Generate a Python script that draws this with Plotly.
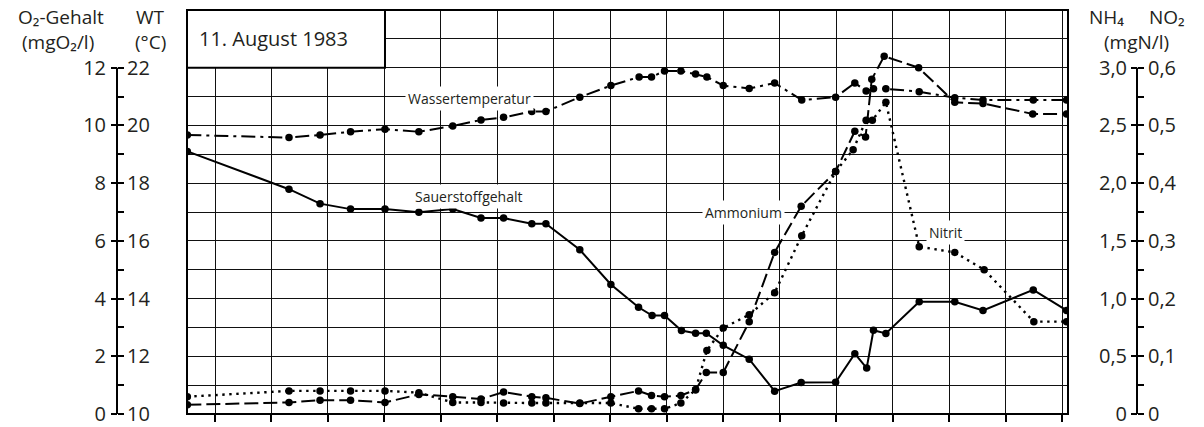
import plotly.graph_objects as go

W, H = 1204, 427

# ---------------- data (x = time in grid units) ----------------
zeit_o2 = [-0.49, 1.31, 1.86, 2.40, 3.01, 3.61, 4.21, 4.71, 5.11, 5.61, 5.86, 6.46, 7.01, 7.50, 7.74, 7.96,
           8.26, 8.51, 8.70, 9.00, 9.46, 9.91, 10.38, 10.99, 11.33, 11.54, 11.66, 11.88, 12.47, 13.10, 13.60,
           14.49, 15.08]
sauerstoff = [9.10, 7.79, 7.29, 7.10, 7.10, 6.99, 7.10, 6.79, 6.79, 6.59, 6.59, 5.69, 4.49, 3.70, 3.41, 3.41,
              2.89, 2.80, 2.80, 2.38, 1.90, 0.79, 1.09, 1.10, 2.09, 1.59, 2.90, 2.79, 3.89, 3.89, 3.59,
              4.30, 3.59]

zeit_wt = [-0.49, 1.31, 1.86, 2.40, 3.01, 3.61, 4.21, 4.71, 5.11, 5.61, 5.86, 6.46, 7.01, 7.51, 7.73, 7.96,
           8.25, 8.51, 8.71, 9.00, 9.46, 9.91, 10.39, 10.99, 11.33, 11.53, 11.66, 11.88, 12.47, 13.10, 13.60,
           14.49, 15.08]
wassertemp = [19.67, 19.58, 19.67, 19.78, 19.87, 19.78, 19.98, 20.19, 20.28, 20.48, 20.48, 20.98, 21.38,
              21.68, 21.68, 21.89, 21.89, 21.78, 21.68, 21.38, 21.28, 21.47, 20.88, 20.98, 21.47, 21.19,
              21.27, 21.27, 21.17, 20.96, 20.88, 20.88, 20.88]

zeit_nh4 = [-0.49, 1.31, 1.86, 2.40, 3.01, 3.61, 4.21, 4.71, 5.11, 5.61, 5.86, 6.46, 7.01, 7.50, 7.73, 7.96,
            8.25, 8.51, 8.70, 9.00, 9.46, 9.91, 10.38, 10.99, 11.33, 11.52, 11.63, 11.85, 12.46, 13.10, 13.60,
            14.48, 15.08]
ammonium = [0.08, 0.10, 0.12, 0.12, 0.10, 0.17, 0.15, 0.13, 0.19, 0.15, 0.14, 0.09, 0.15, 0.20, 0.16, 0.15,
            0.16, 0.21, 0.36, 0.36, 0.80, 1.40, 1.80, 2.10, 2.45, 2.40, 2.90, 3.10, 3.00, 2.70, 2.69,
            2.60, 2.60]

zeit_no2 = [-0.49, 1.31, 1.86, 2.40, 3.01, 3.61, 4.21, 4.71, 5.11, 5.61, 5.86, 6.46, 7.01, 7.50, 7.73, 7.96,
            8.25, 8.51, 8.71, 9.00, 9.46, 9.91, 10.39, 10.99, 11.30, 11.53, 11.64, 11.88, 12.47, 13.10, 13.62,
            14.50, 15.08]
nitrit = [0.030, 0.040, 0.040, 0.040, 0.040, 0.037, 0.020, 0.020, 0.019, 0.019, 0.019, 0.019, 0.019, 0.009,
          0.009, 0.009, 0.019, 0.042, 0.110, 0.149, 0.172, 0.210, 0.309, 0.420, 0.458, 0.509, 0.509, 0.540,
          0.290, 0.280, 0.250, 0.160, 0.160]

# tick values / labels
o2_ticks = [0, 2, 4, 6, 8, 10, 12]
o2_labels = ["0", "2", "4", "6", "8", "10", "12"]
wt_ticks = [10, 12, 14, 16, 18, 20, 22]
wt_labels = ["10", "12", "14", "16", "18", "20", "22"]
nh4_ticks = [0, 0.5, 1.0, 1.5, 2.0, 2.5, 3.0]
nh4_labels = ["0", "0,5", "1,0", "1,5", "2,0", "2,5", "3,0"]
no2_ticks = [0, 0.1, 0.2, 0.3, 0.4, 0.5, 0.6]
no2_labels = ["0", "0,1", "0,2", "0,3", "0,4", "0,5", "0,6"]
x_grid = list(range(16))

title_text = "11. August 1983"
# header texts: (text, x px, y px)
headers = [("O₂-Gehalt", 61, 17.5), ("(mgO₂/l)", 58, 42.5),
           ("WT", 150, 17.5), ("(°C)", 150, 42.5),
           ("NH₄", 1106, 17), ("NO₂", 1167, 17), ("(mgN/l)", 1136, 42)]

# ---------------- layout geometry ----------------
FONT = "Open Sans"
TXT = "#231f20"
GRID = "#111111"
PL, PR = 187, 1068          # plot area px
MT, MB = 10, 9
x_range = [-0.496, 15.105]
y_range = [0, 14]
ax_left_px, ax_right_px = 117, 1137
pos_left = ax_left_px / W
pos_right = ax_right_px / W
plot_h = H - MT - MB


def py2paper(py):
    return (H - MB - py) / plot_h


def mids(v):
    return [(a + b) / 2 for a, b in zip(v[:-1], v[1:])]


marker = dict(size=7.5, color="black")
fig = go.Figure()
fig.add_trace(go.Scatter(x=zeit_wt, y=wassertemp, yaxis="y2", mode="lines+markers",
                         line=dict(color="black", width=2, dash="14px,5px,3px,5px"), marker=marker,
                         name="Wassertemperatur", hoverinfo="skip"))
fig.add_trace(go.Scatter(x=zeit_o2, y=sauerstoff, yaxis="y", mode="lines+markers",
                         line=dict(color="black", width=2), marker=marker,
                         name="Sauerstoffgehalt", hoverinfo="skip"))
fig.add_trace(go.Scatter(x=zeit_nh4, y=ammonium, yaxis="y3", mode="lines+markers",
                         line=dict(color="black", width=2, dash="14px,5px"), marker=marker,
                         name="Ammonium", hoverinfo="skip"))
fig.add_trace(go.Scatter(x=zeit_no2, y=nitrit, yaxis="y4", mode="lines+markers",
                         line=dict(color="black", width=2.4, dash="2.4px,4.6px"), marker=marker,
                         name="Nitrit", hoverinfo="skip"))

tickfont = dict(family=FONT, size=20, color=TXT)
common = dict(zeroline=False, showline=False, ticks="outside", ticklen=6,
              tickwidth=1.6, tickcolor="black", tickfont=tickfont, tickmode="array",
              ticklabeloverflow="allow")

fig.update_layout(
    width=W, height=H, margin=dict(l=0, r=0, t=MT, b=MB),
    paper_bgcolor="white", plot_bgcolor="white", showlegend=False,
    font=dict(family=FONT, color=TXT),
    xaxis=dict(domain=[PL / W, PR / W], range=x_range, tickmode="array", tickvals=x_grid,
               showticklabels=False, ticks="outside", ticklen=7, tickwidth=1.6, tickcolor="black",
               showgrid=True, gridcolor=GRID, gridwidth=1, zeroline=False, showline=False),
    yaxis=dict(range=y_range, anchor="free", position=pos_left, side="left",
               tickvals=o2_ticks, ticktext=o2_labels, ticklabelstandoff=1, **common,
               showgrid=True, gridcolor=GRID, gridwidth=1,
               minor=dict(tickmode="array", tickvals=[1, 3, 5, 7, 9, 11, 13], showgrid=True,
                          gridcolor=GRID, gridwidth=1, ticks="")),
    yaxis2=dict(range=[wt_ticks[0], wt_ticks[0] + 14], overlaying="y", anchor="free", position=pos_left,
                side="right", tickvals=wt_ticks, ticktext=wt_labels, ticklabelstandoff=-1, **common,
                showgrid=False,
                minor=dict(tickmode="array", tickvals=mids(wt_ticks), ticks="outside", ticklen=6,
                           tickwidth=1.6, tickcolor="black", showgrid=False)),
    yaxis3=dict(range=[0, 3.5], overlaying="y", anchor="free", position=pos_right,
                side="left", tickvals=nh4_ticks, ticktext=nh4_labels, ticklabelstandoff=0, **common,
                showgrid=False),
    yaxis4=dict(range=[0, 0.7], overlaying="y", anchor="free", position=pos_right,
                side="right", tickvals=no2_ticks, ticktext=no2_labels, ticklabelstandoff=0, **common,
                showgrid=False,
                minor=dict(tickmode="array", tickvals=mids(no2_ticks), ticks="outside", ticklen=6,
                           tickwidth=1.6, tickcolor="black", showgrid=False)),
)

shapes = [
    # frame
    dict(type="rect", xref="x domain", yref="y domain", x0=0, x1=1, y0=0, y1=1,
         line=dict(color="black", width=2), layer="above"),
    # title box
    dict(type="rect", xref="x", yref="y", x0=x_range[0], x1=3.01, y0=12, y1=14,
         fillcolor="white", line=dict(color="black", width=2), layer="above"),
    # side axis lines
    dict(type="line", xref="paper", yref="y", x0=pos_left, x1=pos_left, y0=0, y1=12,
         line=dict(color="black", width=2)),
    dict(type="line", xref="paper", yref="y", x0=pos_right, x1=pos_right, y0=0, y1=12,
         line=dict(color="black", width=2)),
]
fig.update_layout(shapes=shapes)

ann = []
hf = dict(family=FONT, size=19, color=TXT)
for txt, px, py in headers:
    ann.append(dict(text=txt, xref="paper", yref="paper", x=px / W, y=py2paper(py),
                    xanchor="center", yanchor="middle", showarrow=False, font=hf))

ann.append(dict(text=title_text, xref="x", yref="y", x=-0.32, y=13.0, xanchor="left", yanchor="middle",
                showarrow=False, font=dict(family=FONT, size=20, color=TXT)))

lf = dict(family=FONT, size=14, color=TXT)
for txt, xv, yv in [("Wassertemperatur", 4.50, 10.94), ("Sauerstoffgehalt", 4.49, 7.55),
                    ("Ammonium", 9.35, 7.0), ("Nitrit", 12.94, 6.28)]:
    ann.append(dict(text=txt, xref="x", yref="y", x=xv, y=yv, xanchor="center", yanchor="middle",
                    showarrow=False, font=lf, bgcolor="white", borderpad=2))
fig.update_layout(annotations=ann)

fig.write_html("out.html")
